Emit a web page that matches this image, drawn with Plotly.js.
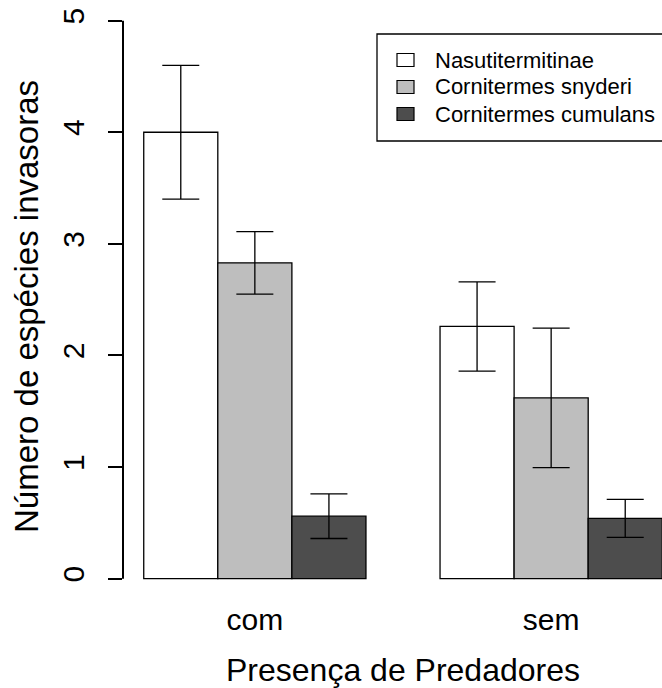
<!DOCTYPE html>
<html>
<head>
<meta charset="utf-8">
<script src="https://cdn.plot.ly/plotly-3.0.1.min.js"></script>
<style>
html, body { margin: 0; padding: 0; overflow: hidden; background: #fff; width: 662px; height: 688px; }
#chart { width: 700px; height: 688px; }
</style>
</head>
<body>
<div id="chart"></div>
<script>
// Data
var groups = ['com', 'sem'];
var seriesNames = ['Nasutitermitinae', 'Cornitermes snyderi', 'Cornitermes cumulans'];
var nasutitermitinae = [4.00, 2.26];
var snyderi = [2.83, 1.62];
var cumulans = [0.56, 0.54];
var errNasutitermitinae = [0.60, 0.40];
var errSnyderi = [0.28, 0.625];
var errCumulans = [0.20, 0.17];
var yTicks = [0, 1, 2, 3, 4, 5];
var xTitle = 'Presença de Predadores';
var yTitle = 'Número de espécies invasoras';

var fills = ['#FFFFFF', '#BEBEBE', '#4D4D4D'];
var values = [nasutitermitinae, snyderi, cumulans];
var errors = [errNasutitermitinae, errSnyderi, errCumulans];
var FONT = 'Liberation Sans, Arial, Helvetica, sans-serif';

// plot area geometry (px) used to place the legend box and y title
var L = 123, PW = 560, PH = 601;
function px(x) { return (x - L) / PW; }
function py(y) { return 1 - y / PH; }

var traces = seriesNames.map(function (name, i) {
  return {
    type: 'bar',
    name: name,
    x: groups,
    y: values[i],
    marker: { color: fills[i], line: { color: '#000000', width: 1.3 } },
    error_y: { type: 'data', array: errors[i], visible: true, color: '#000000', thickness: 1.3, width: 18.5 },
    hoverinfo: 'skip',
    showlegend: false
  };
});

var shapes = [{
  type: 'line', xref: 'paper', yref: 'y',
  x0: 0, x1: 0, y0: yTicks[0], y1: yTicks[yTicks.length - 1],
  line: { color: '#000000', width: 2 }
}, {
  type: 'rect', xref: 'paper', yref: 'paper',
  x0: px(377), x1: px(690), y0: py(34), y1: py(141),
  fillcolor: '#ffffff', line: { color: '#000000', width: 1.3 }, layer: 'above'
}];
var annotations = [{
  xref: 'paper', yref: 'paper', x: px(26), y: py(307),
  xanchor: 'center', yanchor: 'middle', showarrow: false, textangle: -90,
  text: yTitle, font: { family: FONT, size: 33, color: '#000000' }
}];
var rowY = [60, 87, 114];
seriesNames.forEach(function (name, i) {
  shapes.push({
    type: 'rect', xref: 'paper', yref: 'paper',
    x0: px(397), x1: px(414), y0: py(rowY[i] - 6.5), y1: py(rowY[i] + 6.5),
    fillcolor: fills[i], line: { color: '#000000', width: 1.2 }, layer: 'above'
  });
  annotations.push({
    xref: 'paper', yref: 'paper', x: px(433), y: py(rowY[i]),
    xanchor: 'left', yanchor: 'middle', showarrow: false,
    text: name, font: { family: FONT, size: 22, color: '#000000' }
  });
});

var layout = {
  width: 700,
  height: 688,
  margin: { l: L, r: 700 - L - PW, t: 0, b: 688 - PH, pad: 0 },
  paper_bgcolor: '#ffffff',
  plot_bgcolor: '#ffffff',
  barmode: 'group',
  bargap: 0.25,
  bargroupgap: 0,
  font: { family: FONT, color: '#000000' },
  showlegend: false,
  xaxis: {
    type: 'category',
    range: [-0.445, 1.445],
    showline: false, showgrid: false, zeroline: false,
    ticks: '', tickfont: { family: FONT, size: 30 },
    ticklabelstandoff: -2,
    title: { text: xTitle, font: { family: FONT, size: 32 }, standoff: 26 }
  },
  yaxis: {
    range: [-0.2, 5.185],
    tickvals: yTicks,
    ticktext: yTicks.map(String),
    showline: false, showgrid: false, zeroline: false,
    ticks: 'outside', ticklen: 14, tickwidth: 2, tickcolor: '#000000',
    tickangle: -90,
    ticklabelstandoff: 12,
    tickfont: { family: FONT, size: 30 }
  },
  shapes: shapes,
  annotations: annotations
};

Plotly.newPlot('chart', traces, layout, { displayModeBar: false, staticPlot: true });
</script>
</body>
</html>
